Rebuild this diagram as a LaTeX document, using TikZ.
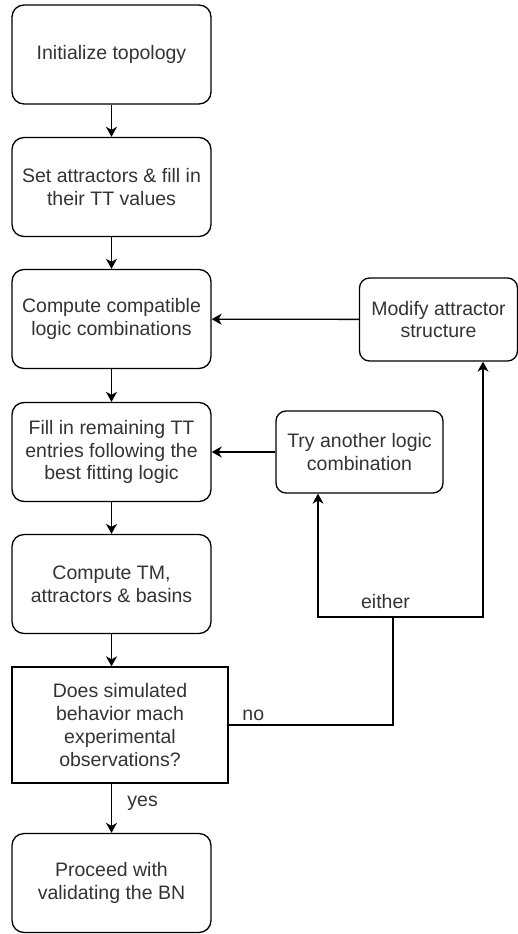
\documentclass[tikz,border=0pt]{standalone}
\usepackage{fontspec}
\setmainfont{Liberation Sans}
\usetikzlibrary{arrows.meta}
\definecolor{txtgray}{HTML}{333333}
\begin{document}
\begin{tikzpicture}[x=1pt,y=-1pt,line width=1.3pt,
  font=\fontsize{19.5}{22.7}\selectfont,text=txtgray,
  stepbox/.style={draw,rounded corners=12pt,align=center,minimum width=199pt,minimum height=99pt,inner sep=0pt},
  sidebox/.style={draw,rounded corners=10pt,align=center,inner sep=0pt},
  testbox/.style={draw,align=center,minimum width=216pt,minimum height=116pt,inner sep=0pt},
  flow/.style={-{Stealth[length=10pt,width=11pt,inset=3pt]}}]
\useasboundingbox (0,0) rectangle (518,934);
\node[stepbox] (init) at (111.5,54.5) {Initialize topology};
\node[stepbox] (attr) at (111.5,187) {Set attractors \& fill in\\their TT values};
\node[stepbox] (compat) at (111.5,319) {Compute compatible\\logic combinations};
\node[stepbox] (fill) at (111.5,452) {Fill in remaining TT\\entries following the\\best fitting logic};
\node[stepbox] (tm) at (111.5,584) {Compute TM,\\attractors \& basins};
\node[testbox] (match) at (120,725) {Does simulated\\behavior mach\\experimental\\observations?};
\node[stepbox] (valid) at (111.5,883) {Proceed with\\validating the BN};
\node[sidebox,minimum width=158pt,minimum height=83pt] (modify) at (438.5,319.5) {Modify attractor\\structure};
\node[sidebox,minimum width=167pt,minimum height=82pt] (other) at (359.5,452) {Try another logic\\combination};
\coordinate (split) at (393,617);
\draw[flow] (init) -- (attr);
\draw[flow] (attr) -- (compat);
\draw[flow] (compat) -- (fill);
\draw[flow] (fill) -- (tm);
\draw[flow] (tm.south) -- (tm.south |- match.north);
\draw[flow] (tm.south |- match.south) -- node[right=12pt,pos=0.4] {yes} (valid.north);
\draw (match.east) -- node[above,pos=0.15] {no} (match.east -| split) -- (split);
\draw[flow] (split) -- node[above=4pt,pos=0.1] {either} (318,617) -- (318,452 |- other.south);
\draw[flow] (split) -- (483,617) -- (483,452 |- modify.south);
\draw[flow] (modify) -- (compat);
\draw[flow] (other) -- (fill);
\end{tikzpicture}
\end{document}
